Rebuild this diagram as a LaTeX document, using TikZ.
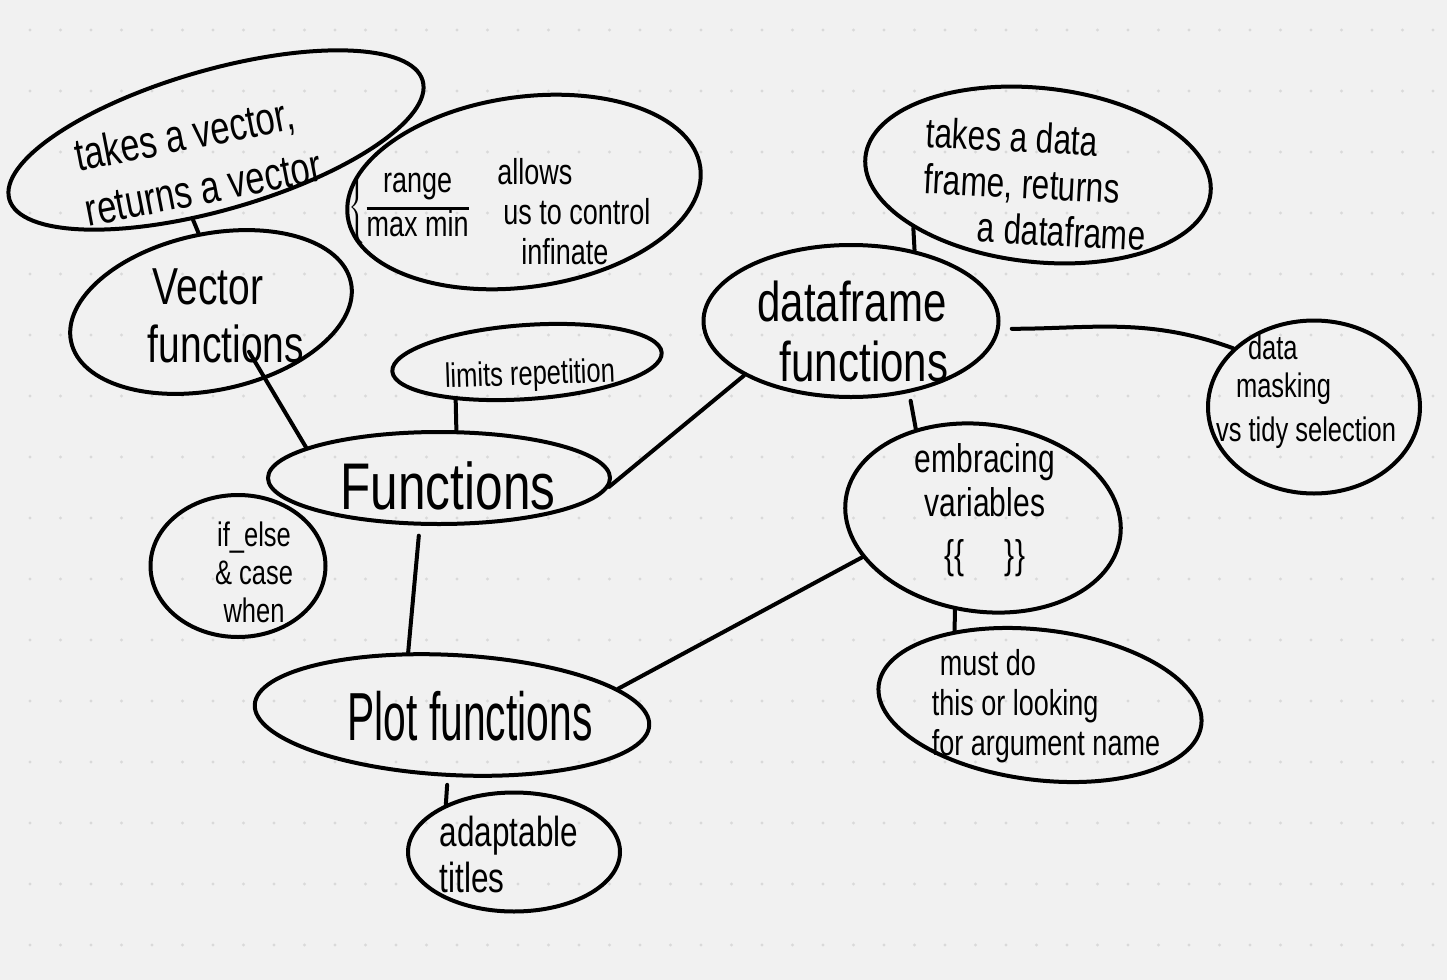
\documentclass[tikz,border=0pt]{standalone}
\usepackage{fontspec}
\usetikzlibrary{shapes.geometric}
\newfontfamily\hand[FakeStretch=0.75]{Liberation Sans}
\newfontfamily\handc[FakeStretch=0.6]{Liberation Sans}
\definecolor{paper}{HTML}{F1F1F1}
\definecolor{dotc}{HTML}{D9D9D9}
\newcommand{\fs}[2]{\fontsize{#1}{#2}\selectfont}
\tikzset{
  bub/.style={draw=black, line width=2pt, ellipse, inner sep=0pt},
  txt/.style={inner sep=0pt, text=black},
  link/.style={draw=black, line width=2pt, line cap=round},
}
\begin{document}
\begin{tikzpicture}[x=0.5pt, y=-0.5pt]
\useasboundingbox (0,0) rectangle (1447,980);
\fill[paper] (0,0) rectangle (1447,980);
\foreach \i in {0,...,46} \foreach \j in {0,...,15}
  \fill[dotc] ({30+30.5*\i},{30+61*\j}) circle (0.8pt);

% bubbles
\node[bub, minimum width=215pt, minimum height=70pt, rotate=16] (tv) at (216,140) {};
\node[bub, minimum width=178pt, minimum height=95pt, rotate=8] (rg) at (524,192) {};
\node[bub, minimum width=143pt, minimum height=78pt, rotate=12] (vf) at (211,312) {};
\node[bub, minimum width=135pt, minimum height=37pt, rotate=4] (lim) at (527,362) {};
\node[bub, minimum width=171pt, minimum height=46pt] (fn) at (439,478) {};
\node[bub, minimum width=87.5pt, minimum height=71pt] (ie) at (238,566) {};
\node[bub, minimum width=147.5pt, minimum height=76pt] (df) at (851,321) {};
\node[bub, minimum width=173.5pt, minimum height=87pt, rotate=-6] (tdf) at (1038,175) {};
\node[bub, minimum width=106pt, minimum height=86.5pt] (dm) at (1314,407) {};
\node[bub, minimum width=138.5pt, minimum height=93.5pt, rotate=-8] (emb) at (983,518) {};
\node[bub, minimum width=162.5pt, minimum height=75pt, rotate=-7] (must) at (1040,705) {};
\node[bub, minimum width=197.5pt, minimum height=60pt, rotate=-3] (pl) at (452,715) {};
\node[bub, minimum width=106pt, minimum height=59.5pt] (ad) at (514,852) {};

% connectors
\draw[link] (tv.238) -- (vf.87);
\draw[link, shorten <=-16pt] (vf.297) -- (fn.167);
\draw[link] (lim.204) -- (fn.70);
\draw[link] (fn.357) -- (df.207);
\draw[link] (tdf.209) -- (df.48);
\draw[link, shorten <=6pt] (df.357) to[out=0, in=160] (dm.144);
\draw[link, shorten <=4pt] (df.309) -- (emb.135);
\draw[link] (emb.261) -- (must.146);
\draw[link] (emb.206) -- (pl.12);
\draw[link, shorten <=5pt] (fn.248) -- (pl.128);
\draw[link, shorten <=4pt] (pl.269) -- (ad.145);

% texts
\node[txt, rotate=11, align=left, font=\hand\fs{23}{28}] (ttv) at (198,160) {takes a vector,\\returns a vector};
\node[txt, font=\hand\fs{18}{18}] (trg) at (410,207)
  {$\left\{\setlength{\arrayrulewidth}{1.5pt}\begin{tabular}{@{}c@{}}\hand\fs{18}{18}range\\[2pt]\hline\hand\fs{18}{18}max min\end{tabular}\right.$};
\node[txt, align=left, font=\hand\fs{18}{20}, anchor=west] (tal) at (497,212)
  {allows\\\hspace*{3pt}us to control\\\hspace*{12pt}infinate};
\node[txt, rotate=2, font=\hand\fs{17}{17}] (tlim) at (530,376) {limits repetition};
\node[txt, font=\hand\fs{33}{33}] (tfn) at (448,486) {Functions};
\node[txt, align=center, font=\hand\fs{17}{19}] (tie) at (254,572) {if\_else\\\& case\\when};
\node[txt, align=center, font=\hand\fs{26}{29}] (tvf) at (208,316) {Vector\\\hspace*{18pt}functions};
\node[txt, align=center, font=\hand\fs{28}{30}] (tdfn) at (852,331) {dataframe\\\hspace*{12pt}functions};
\node[txt, rotate=-3, align=left, font=\hand\fs{21}{23}] (ttdf) at (1036,184)
  {takes a data\\frame, returns\\\hspace*{28pt}a dataframe};
\node[txt, align=left, font=\hand\fs{17}{19}] (tdm) at (1306,392)
  {\hspace*{16pt}data\\\hspace*{10pt}masking\\[3pt]vs tidy selection};
\node[txt, align=center, font=\hand\fs{20}{22}] (temb) at (985,510)
  {embracing\\variables\\[4pt]\{\{\quad\}\}};
\node[txt, align=left, font=\hand\fs{18}{20}] (tmust) at (1046,706)
  {\hspace*{4pt}must do\\this or looking\\for argument name};
\node[txt, font=\handc\fs{34}{34}] (tpl) at (470,716) {Plot functions};
\node[txt, align=left, font=\hand\fs{21}{23}] (tad) at (509,854) {adaptable\\titles};
\end{tikzpicture}
\end{document}
